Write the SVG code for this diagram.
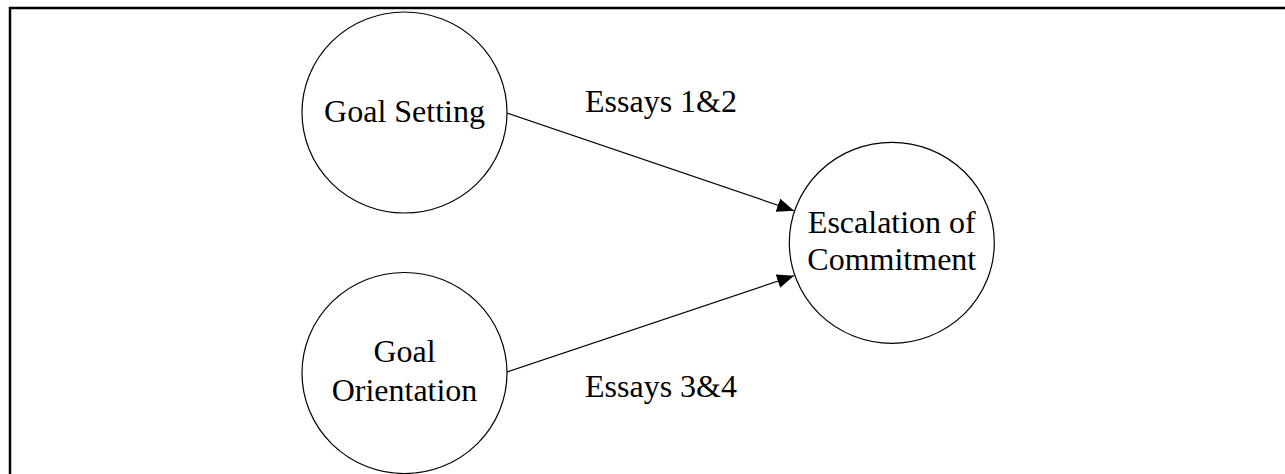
<svg xmlns="http://www.w3.org/2000/svg" width="1285" height="474" viewBox="0 0 1285 474">
<style>
.node{fill:#fff;stroke:#000;stroke-width:1.2}
.lbl{font-family:"Liberation Serif","Times New Roman",serif;font-size:32px;fill:#000;text-anchor:middle}
.elbl{font-family:"Liberation Serif","Times New Roman",serif;font-size:32px;fill:#000}
.edge{stroke:#000;stroke-width:1.2;fill:none}
</style>
<defs>
<marker id="arr" markerUnits="userSpaceOnUse" markerWidth="18" markerHeight="14" viewBox="0 0 18 14" refX="17" refY="7" orient="auto">
<path d="M0,0 L17,7 L0,14 Z" fill="#000"/>
</marker>
</defs>
<rect width="1285" height="474" fill="#fff"/>
<path d="M10,480 L10,8 L1290,8" fill="none" stroke="#000" stroke-width="2.5"/>
<g id="connectors">
<line class="edge" x1="507" y1="113" x2="794" y2="210.7" marker-end="url(#arr)"/>
<line class="edge" x1="507" y1="372" x2="794" y2="275.7" marker-end="url(#arr)"/>
<text class="elbl" x="585" y="111.7">Essays 1&amp;2</text>
<text class="elbl" x="585" y="396.7">Essays 3&amp;4</text>
</g>
<g id="goal-setting">
<ellipse class="node" cx="404.5" cy="112.5" rx="102.5" ry="100.5"/>
<text class="lbl" x="404.5" y="121.7">Goal Setting</text>
</g>
<g id="goal-orientation">
<ellipse class="node" cx="404.5" cy="373" rx="102.5" ry="100.5"/>
<text class="lbl" x="404.5" y="361.7">Goal</text>
<text class="lbl" x="404.5" y="401">Orientation</text>
</g>
<g id="escalation">
<ellipse class="node" cx="891.8" cy="242.8" rx="102.5" ry="100.5"/>
<text class="lbl" x="891.8" y="232.7">Escalation of</text>
<text class="lbl" x="891.8" y="270">Commitment</text>
</g>
</svg>
